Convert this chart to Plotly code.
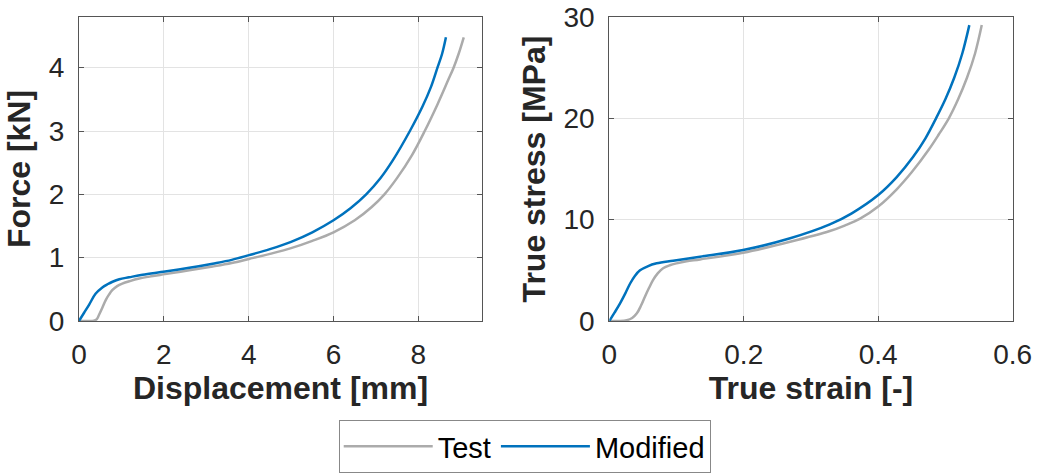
import plotly.graph_objects as go

# ---- Data ----
disp_test = [0, 0.2, 0.35, 0.42, 0.47, 0.55, 0.63, 0.71, 0.79, 0.9, 1.02, 1.2, 1.42, 1.7, 2.03, 2.6,
             3.15, 3.6, 4.01, 4.5, 5.0, 5.5, 6.0, 6.5, 6.9, 7.2, 7.5, 7.85, 8.15, 8.45, 8.7, 8.83,
             8.95, 9.07]
force_test = [0, 0.0, 0.005, 0.03, 0.095, 0.21, 0.33, 0.42, 0.49, 0.55, 0.59, 0.63, 0.67, 0.705, 0.74, 0.80,
              0.86, 0.915, 0.98, 1.06, 1.15, 1.265, 1.40, 1.59, 1.80, 2.0, 2.26, 2.62, 3.0, 3.42, 3.8, 4.0,
              4.22, 4.48]

disp_mod = [0, 0.12, 0.24, 0.39, 0.55, 0.67, 0.79, 0.95, 1.18, 1.5, 2.03, 2.6, 3.15, 3.6, 4.01,
            4.5, 5.0, 5.5, 6.0, 6.4, 6.77, 7.1, 7.4, 7.8, 8.1, 8.3, 8.45, 8.56, 8.65]
force_mod = [0, 0.13, 0.26, 0.43, 0.53, 0.58, 0.62, 0.66, 0.69, 0.73, 0.78, 0.84, 0.905, 0.965, 1.04,
             1.135, 1.25, 1.40, 1.59, 1.78, 2.0, 2.25, 2.54, 3.0, 3.39, 3.70, 4.0, 4.22, 4.48]

strain_test = [0, 0.015, 0.026, 0.034, 0.041, 0.047, 0.053, 0.059, 0.065, 0.072, 0.080, 0.090, 0.100,
               0.115, 0.135, 0.199, 0.269, 0.328, 0.35, 0.373, 0.4, 0.4275, 0.45, 0.475, 0.49, 0.505,
               0.519, 0.532, 0.544, 0.554]
stress_test = [0, 0.0, 0.08, 0.3, 0.76, 1.5, 2.4, 3.25, 4.04, 4.7, 5.2, 5.5, 5.69,
               5.9, 6.08, 6.74, 7.82, 8.88, 9.42, 10.1, 11.3, 13.0, 14.7, 16.9, 18.4, 20.0,
               21.9, 24.0, 26.4, 29.2]

strain_mod = [0, 0.008, 0.016, 0.024, 0.031, 0.038, 0.0457, 0.057, 0.0705, 0.095, 0.135, 0.199,
              0.269, 0.328, 0.36, 0.4, 0.4275, 0.452, 0.47, 0.486, 0.5, 0.513, 0.525, 0.5355]
stress_mod = [0, 0.85, 1.74, 2.75, 3.7, 4.45, 5.0, 5.4, 5.69, 5.95, 6.34, 7.0,
              8.16, 9.53, 10.6, 12.43, 14.2, 16.2, 18.0, 20.0, 21.9, 24.0, 26.4, 29.2]

series_names = ["Test", "Modified"]
colors = ["#ABABAB", "#0072BD"]

FONT = "Liberation Sans, Arial, Helvetica, sans-serif"
TXT = "#262626"
LW = 2.5

fig = go.Figure()
panels = [
    ("x", "y", [(disp_test, force_test), (disp_mod, force_mod)], True),
    ("x2", "y2", [(strain_test, stress_test), (strain_mod, stress_mod)], False),
]
for xa, ya, series, show in panels:
    for i, (xs, ys) in enumerate(series):
        fig.add_trace(go.Scatter(
            x=xs, y=ys, mode="lines", name=series_names[i],
            line=dict(color=colors[i], width=LW, shape="spline", smoothing=1.0),
            xaxis=xa, yaxis=ya, showlegend=show, legendgroup=series_names[i]))

axis_common = dict(
    showline=True, linecolor="#555555", linewidth=1, mirror="allticks",
    ticks="inside", ticklen=5, tickcolor="#555555", tickwidth=1,
    showgrid=True, gridcolor="#E3E3E3", gridwidth=1,
    zeroline=False, tickfont=dict(family=FONT, size=28, color=TXT),
    ticklabelstandoff=8, automargin=False,
)
title_font = dict(family=FONT, size=32, color=TXT, weight="bold")

fig.update_layout(
    width=1037, height=473,
    margin=dict(l=0, r=0, t=0, b=0),
    paper_bgcolor="white", plot_bgcolor="white",
    font=dict(family=FONT, color=TXT),
    xaxis=dict(domain=[79/1037, 482/1037], range=[0, 9.5], tickvals=[0, 2, 4, 6, 8],
               title=dict(text="Displacement [mm]", font=title_font, standoff=8),
               anchor="y", **axis_common),
    yaxis=dict(domain=[1-321/473, 1-17/473], range=[0, 4.8], tickvals=[0, 1, 2, 3, 4],
               title=dict(text="Force [kN]", font=title_font, standoff=8),
               anchor="x", **axis_common),
    xaxis2=dict(domain=[609.3/1037, 1012.7/1037], range=[0, 0.6], tickvals=[0, 0.2, 0.4, 0.6],
                ticktext=["0", "0.2", "0.4", "0.6"],
                title=dict(text="True strain [-]", font=title_font, standoff=8),
                anchor="y2", **axis_common),
    yaxis2=dict(domain=[1-321/473, 1-17/473], range=[0, 30], tickvals=[0, 10, 20, 30],
                title=dict(text="True stress [MPa]", font=title_font, standoff=8),
                anchor="x2", **axis_common),
    legend=dict(orientation="h", x=0.506, xanchor="center", y=0.0, yanchor="bottom",
                font=dict(family=FONT, size=29, color="black"),
                bordercolor="#888888", borderwidth=1, bgcolor="white",
                itemwidth=89, tracegroupgap=0),
)

fig.write_html("out.html")
